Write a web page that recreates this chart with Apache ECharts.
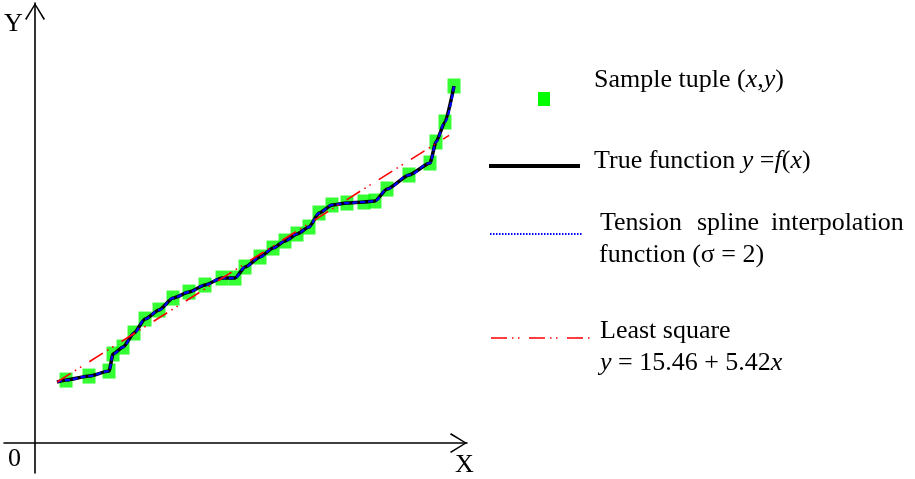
<!DOCTYPE html>
<html>
<head>
<meta charset="utf-8">
<script src="https://cdn.jsdelivr.net/npm/echarts@6/dist/echarts.min.js"></script>
<style>
  html, body { margin: 0; padding: 0; background: #fff; }
  #chart { width: 915px; height: 479px; }
</style>
</head>
<body>
<div id="chart"></div>
<script>
// Sample tuples (x, y)
const sampleX = [1.178, 2.052, 2.813, 2.965, 3.345, 3.763, 4.181, 4.713, 5.245, 5.853,
                 6.461, 7.108, 7.602, 7.982, 8.552, 9.046, 9.502, 9.958, 10.414, 10.794,
                 11.288, 11.858, 12.505, 12.923, 13.379, 14.215, 15.013, 15.241, 15.583, 15.926];
const sampleY = [20.63, 21.94, 23.58, 29.15, 31.44, 36.03, 40.61, 43.56, 47.49, 49.45,
                 51.75, 54.04, 54.04, 57.64, 60.92, 63.86, 66.16, 68.45, 70.74, 75.33,
                 77.95, 78.60, 78.93, 79.26, 83.19, 87.77, 91.70, 98.58, 105.13, 116.92];

// True function y = f(x), evaluated along the sampled range
const trueFnX = [0.836, 1.178, 2.052, 2.813, 2.965, 3.345, 3.763, 4.181, 4.713, 5.245, 5.853,
                 6.461, 7.108, 7.602, 7.982, 8.552, 9.046, 9.502, 9.958, 10.414, 10.794,
                 11.288, 11.858, 12.505, 12.923, 13.379, 14.215, 15.013, 15.241, 15.583, 15.926];
const trueFnY = [19.98, 20.63, 21.94, 23.58, 29.15, 31.44, 36.03, 40.61, 43.56, 47.49, 49.45,
                 51.75, 54.04, 54.04, 57.64, 60.92, 63.86, 66.16, 68.45, 70.74, 75.33,
                 77.95, 78.60, 78.93, 79.26, 83.19, 87.77, 91.70, 98.58, 105.13, 116.92];

// Tension spline (sigma = 2) knots
const splineX = trueFnX.slice();
const splineY = trueFnY.slice();

// Least-squares fit y = a + b x
const lsIntercept = 15.46;
const lsSlope = 5.42;
const lsRange = [0.84, 15.74];

const pairs = (xs, ys) => xs.map((x, i) => [x, ys[i]]);

const SERIF = '"Liberation Serif", "DejaVu Serif", serif';
const FS = 26;
const rich = {
  n: { fontFamily: SERIF, fontSize: FS, fill: '#000' },
  i: { fontFamily: SERIF, fontSize: FS, fontStyle: 'italic', fill: '#000' }
};
function label(x, y, text) {
  return {
    type: 'text', x: x, y: y, z: 10,
    style: { text: text, rich: rich, fontFamily: SERIF, fontSize: FS, fill: '#000',
             align: 'left', verticalAlign: 'middle' }
  };
}

// Open chevron used as axis arrowhead (tip at top)
const chevron = 'path://M10,0 L20,16 L18.6,17 L10,2.4 L1.4,17 L0,16 Z';

const axisCommon = {
  type: 'value',
  axisLine: {
    show: true, onZero: true,
    lineStyle: { color: '#000', width: 1.6 },
    symbol: ['none', chevron],
    symbolSize: [20, 17],
    symbolOffset: [0, -8.5]
  },
  axisTick: { show: false },
  axisLabel: { show: false },
  splitLine: { show: false }
};

const chart = echarts.init(document.getElementById('chart'), null, { renderer: 'canvas' });
chart.setOption({
  animation: false,
  backgroundColor: '#fff',
  grid: { left: 4, right: 448, top: 3, bottom: 6 },
  xAxis: Object.assign({}, axisCommon, { min: -1.18, max: 16.42 }),
  yAxis: Object.assign({}, axisCommon, { min: -9.8, max: 144.1 }),
  series: [
    {
      name: 'Sample tuple', type: 'scatter', z: 1,
      data: pairs(sampleX, sampleY),
      symbol: 'rect', symbolSize: [13, 15],
      itemStyle: { color: '#00ff00' }
    },
    {
      name: 'True function', type: 'line', z: 2,
      data: pairs(trueFnX, trueFnY),
      showSymbol: false, smooth: 0.2, smoothMonotone: 'x',
      lineStyle: { color: '#000', width: 3.5 }
    },
    {
      name: 'Tension spline', type: 'line', z: 3,
      data: pairs(splineX, splineY),
      showSymbol: false, smooth: 0.35, smoothMonotone: 'x',
      lineStyle: { color: '#0000ff', width: 2.2, type: [5, 3] }
    },
    {
      name: 'Least square', type: 'line', z: 4,
      data: lsRange.map(x => [x, lsIntercept + lsSlope * x]),
      showSymbol: false,
      lineStyle: { color: '#ff0000', width: 1.6, type: [16, 5, 1.5, 4.5, 1.5, 9.5] }
    }
  ],
  graphic: [
    // axis captions
    label(4, 24, '{n|Y}'),
    label(8, 459, '{n|0}'),
    label(455, 465, '{n|X}'),
    // legend keys
    { type: 'rect', shape: { x: 538, y: 92, width: 12, height: 14 }, style: { fill: '#00ff00' } },
    { type: 'line', shape: { x1: 489, y1: 166, x2: 580, y2: 166 }, style: { stroke: '#000', lineWidth: 4 } },
    { type: 'line', shape: { x1: 490, y1: 234, x2: 583, y2: 234 },
      style: { stroke: '#0000ff', lineWidth: 2, lineDash: [1.5, 1.5] } },
    { type: 'line', shape: { x1: 491, y1: 338, x2: 590, y2: 338 },
      style: { stroke: '#ff0000', lineWidth: 1.6, lineDash: [16, 5, 1.5, 4.5, 1.5, 9.5] } },
    // legend texts
    label(594, 80, '{n|Sample tuple (}{i|x}{n|,}{i|y}{n|)}'),
    label(594, 161, '{n|True function }{i|y}{n| =}{i|f}{n|(}{i|x}{n|)}'),
    label(600, 223, '{n|Tension}'),
    label(697, 223, '{n|spline}'),
    label(771, 223, '{n|interpolation}'),
    label(599, 255, '{n|function (σ = 2)}'),
    label(600, 331, '{n|Least square}'),
    label(600, 363, '{i|y}{n| = ' + lsIntercept.toFixed(2) + ' + ' + lsSlope.toFixed(2) + '}{i|x}')
  ]
});
</script>
</body>
</html>
